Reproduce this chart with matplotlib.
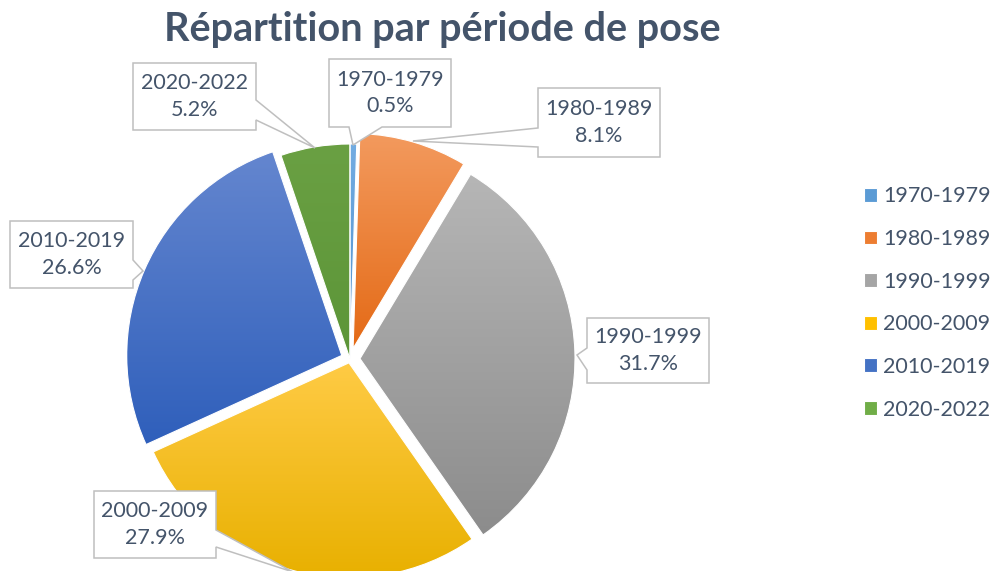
import numpy as np
import matplotlib.pyplot as plt
from matplotlib.patches import Polygon
from matplotlib.colors import LinearSegmentedColormap

periods = ["1970-1979", "1980-1989", "1990-1999", "2000-2009", "2010-2019", "2020-2022"]
shares = [0.5, 8.1, 31.7, 27.9, 26.6, 5.2]

# office palette + top/bottom shades for the gradient fill
base_colors = ["#5B9BD5", "#ED7D31", "#A5A5A5", "#FFC000", "#4472C4", "#70AD47"]
grad_colors = [
    ("#72ACE2", "#4F8FCC"),
    ("#F39A5E", "#E46A16"),
    ("#B6B6B6", "#8C8C8C"),
    ("#FFCB45", "#E8B000"),
    ("#6486CF", "#2F5FBB"),
    ("#6AA043", "#5C9538"),
]
# explode offsets in pixels (pie uses absolute units here)
explode = [0, 11, 10, 4, 9, 0]

# callouts in pixel coords: box (x0, y0, x1, y1), side of pointer, pointer base, tip
callouts = [
    ((329, 59, 451, 127), "bottom", (349, 382), (353, 145)),
    ((538, 88, 660, 157), "left", (128, 147), (413, 141)),
    ((587, 318, 709, 383), "left", (348, 370), (577, 355)),
    ((94, 491, 216, 558), "right", (530, 547), (293, 572)),
    ((10, 221, 133, 288), "right", (260, 280), (143, 271)),
    ((133, 63, 256, 130), "right", (100, 120), (315, 148)),
]

TEXT = "#44546A"
plt.rcParams["font.family"] = ["Lato", "DejaVu Sans"]


def callout_verts(box, side, base, tip):
    x0, y0, x1, y1 = box
    v = [(x0, y0), (x1, y0)]
    if side == "right":
        v += [(x1, base[0]), tip, (x1, base[1])]
    v.append((x1, y1))
    if side == "bottom":
        v += [(base[1], y1), tip, (base[0], y1)]
    v.append((x0, y1))
    if side == "left":
        v += [(x0, base[1]), tip, (x0, base[0])]
    return v


fig = plt.figure(figsize=(9.91, 5.71), dpi=100)
ax = fig.add_axes([0, 0, 1, 1])

# y axis runs downward (pixel-like), so start at -90 going counterclockwise
wedges, _ = ax.pie(
    shares,
    colors=base_colors,
    explode=explode,
    center=(350, 359),
    radius=215,
    startangle=-90,
    counterclock=True,
    wedgeprops=dict(edgecolor="white", linewidth=0.8),
)

leg = ax.legend(
    wedges,
    periods,
    loc="center left",
    bbox_to_anchor=(853 / 991, 1 - 303 / 571),
    frameon=False,
    fontsize=15.5,
    labelcolor=TEXT,
    handlelength=0.6,
    handleheight=0.6,
    handletextpad=0.3,
    labelspacing=1.05,
    borderpad=0,
)

grad = np.linspace(0, 1, 256).reshape(-1, 1)
for w, (c0, c1) in zip(wedges, grad_colors):
    ext = w.get_path().get_extents()
    cmap = LinearSegmentedColormap.from_list("g", [c0, c1])
    im = ax.imshow(grad, cmap=cmap, origin="lower", aspect="auto",
                   extent=(ext.x0, ext.x1, ext.y0, ext.y1),
                   interpolation="bilinear", zorder=0.5)
    im.set_clip_path(w)
    w.set_facecolor("none")

for (box, side, base, tip), name, val in zip(callouts, periods, shares):
    ax.add_patch(Polygon(callout_verts(box, side, base, tip), closed=True,
                         facecolor="white", edgecolor="#BFBFBF", linewidth=1.1, zorder=3))
    cx = (box[0] + box[2]) / 2
    cy = (box[1] + box[3]) / 2
    ax.text(cx, cy, f"{name}\n{val:.1f}%", ha="center", va="center",
            fontsize=15.5, color=TEXT, linespacing=1.4, zorder=4)

ax.text(442, 30, "Répartition par période de pose", ha="center", va="center",
        fontsize=28.5, fontweight="bold", color=TEXT)

ax.set_xlim(0, 991)
ax.set_ylim(571, 0)
ax.set_aspect("equal")
ax.axis("off")

fig.savefig("out.png", dpi=100)
